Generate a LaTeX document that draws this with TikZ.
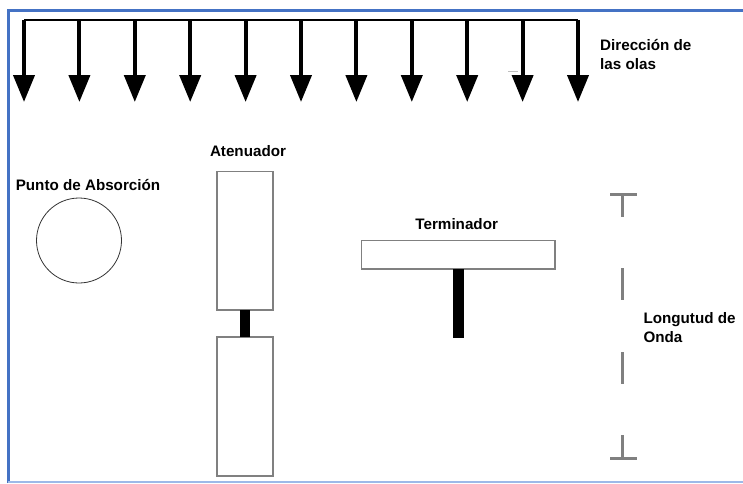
\documentclass[tikz,border=0pt]{standalone}
\usepackage{fontspec}
\setmainfont{Liberation Sans}
\usetikzlibrary{arrows.meta}
\definecolor{frameblue}{HTML}{4472C4}
\definecolor{framelight}{HTML}{9DB9E8}
\definecolor{markgray}{HTML}{808080}

\begin{document}
\begin{tikzpicture}[x=1pt,y=-1pt,
  lbl/.style={font=\fontsize{15.2}{18.5}\selectfont\bfseries, inner sep=0pt, align=left},
  block/.style={draw=markgray, line width=1.2pt, fill=white, inner sep=0pt, outer sep=0pt},
  wave/.style={line width=4pt, -{Triangle[width=21pt,length=27pt]}},
  wavemark/.style={draw=markgray, line width=2.5pt}]
\useasboundingbox (0,0) rectangle (743,483);
% frame
\draw[frameblue, line width=3pt] (8,483) -- (8,10) -- (743,10);
\draw[framelight, line width=1.5pt] (8,482) -- (743,482);
% waves
\draw[line width=2pt] (24,20) -- (578,20);
\foreach \i in {0,...,10}
  \draw[wave] (24+55.4*\i,20) -- (24+55.4*\i,102);
\draw[gray!50, line width=1pt] (508,71) -- (518,71);
\node[lbl, anchor=west] (dir) at (600,54.5) {Dirección de\\las olas};
% point absorber
\node[lbl] (abslbl) at (88,185) {Punto de Absorción};
\node[circle, draw=black!80, line width=0.8pt, minimum size=85pt, inner sep=0pt] (abs) at (79,240.5) {};
% attenuator
\node[lbl] (attlbl) at (248,150.7) {Atenuador};
\node[block, minimum width=56pt, minimum height=138.3pt] (att1) at (245,240.85) {};
\node[block, minimum width=56pt, minimum height=139pt] (att2) at (245,406.5) {};
\fill ([xshift=-5pt]att1.south) rectangle ([xshift=5pt]att2.north);
% terminator
\node[lbl] (termlbl) at (456.7,224) {Terminador};
\node[block, minimum width=193.3pt, minimum height=28.3pt] (term) at (458.35,254.85) {};
\coordinate (stemend) at (458.5,337.7);
\fill ([xshift=-5.8pt]term.south) rectangle ([xshift=5.8pt]stemend);
% wavelength
\draw[wavemark] (610,194.3) -- (637.3,194.3) (622.7,194.3) -- (622.7,217);
\draw[wavemark] (622.7,268) -- (622.7,300);
\draw[wavemark] (622.7,352) -- (622.7,384);
\draw[wavemark] (622.7,435) -- (622.7,458.3) (610,458.3) -- (637.3,458.3);
\node[lbl, anchor=west] (lenlbl) at (643.3,327.5) {Longutud de\\Onda};
\end{tikzpicture}
\end{document}
